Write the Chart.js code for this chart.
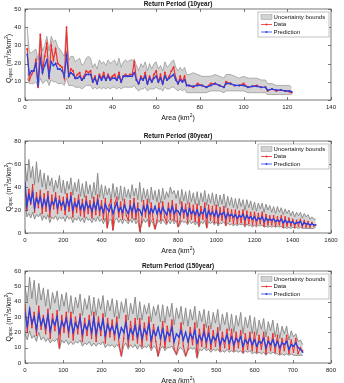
<!DOCTYPE html>
<html><head><meta charset="utf-8">
<script src="https://cdn.jsdelivr.net/npm/chart.js@4.4.0/dist/chart.umd.min.js"></script>
<style>
html,body{margin:0;padding:0;background:#fff;width:344px;height:383px;overflow:hidden}
canvas{position:absolute;left:0}
</style></head><body>
<canvas id="c1" width="344" height="130" style="top:0px"></canvas>
<canvas id="c2" width="344" height="130" style="top:125px"></canvas>
<canvas id="c3" width="344" height="133" style="top:250px"></canvas>
<script>
// ---------- Panel 1: Return Period (10year) ----------
const area1=[1,2,3,4,5,6,7,8,9,10,11,12,13,14,15,16,17,18,19,20,21,22,23,24,25,26,27,28,29,30,31,32,33,34,35,36,37,38,39,40,41,42,43,44,45,46,47,48,49,50,51,52,53,54,55,56,57,58,59,60,61,62,63,64,65,66,67,68,69,70,71,72,73,74,75,77,79,81,83,85,87,89,91,92,94,96,98,100,102,104,106,108,110,111,113,115,117,119,121,122];
const data1=[28,11,14,16,22,7,36,16,24,31,12,30,22,28,20,19,18,12,40,13,17,16,12,14,15,11,13,16,15,16,10,13,9,14,12,15,11,14,12,13,14,11,15,10,13,14,13,14,14,21,11,9,13,11,15,9,13,10,14,16,10,14,9,15,11,13,16,18,12,9,13,10,13,8,8,7,9,8,7,9,9,8,7,10,9,8,8,9,7,7.5,8,7,7,5,6,5,5.5,5,4.5,4];
const pred1=[25,14,16,16,20,8,23,15,19,22,13,21,19,20,17,17,16,13,24.5,13,15,14,12,12,13,11,12,14,14,14,10,12,9,13,11,13,11,13,11,12,12,11,13,10,13,13,13,13,13,15,11,9,12,11,13,9,12,10,12,13,10,12,9,13,11,12,13,14,11,9,11,10,11,8,8,7.5,8,8,7,8,9,8,7,9,9,8,8,8,7,7.5,7.5,7,7,5.5,6,5.5,5.5,5,5,4.5];
const upper1=[40,26,26,27,28,22,36,27,30,35,27,35,32,33,29,28,26,24,40,22,24,24,21,22,23,19,20,23,24,23,18,20,17,22,20,21,19,22,20,21,22,19,23,18,21,22,21,22,22,22,19,16,20,18,21,16,20,17,20,21,17,19,16,21,18,19,21,22,18,16,18,16,18,14,14,15,14,13,13,13,14,13,12,14,14,13,12,13,12,12,12,11,11,9,9,8,8,8,8,7];
const lower1=[12,9,9,9,10,7,12,9,10,11,8,11,10,10,9,9,9,8,12,8,8,8,7,7,7,6,7,8,8,8,6,7,6,7,6,7,6,7,6,7,7,6,7,6,7,7,7,7,7,8,6,5,6,6,7,5,6,6,6,7,6,6,5,7,6,6,7,7,6,5,6,5,6,4,4,4,4,4,4,5,5,5,4,5,5,5,5,5,4,4,4,4,4,3,3,3,3,3,3,3];

// ---------- Panel 2: Return Period (80year) ----------
const area2=[0,10,20,30,40,50,60,70,80,90,100,110,120,130,140,150,160,170,180,190,200,210,220,230,240,250,260,270,280,290,300,310,320,330,340,350,360,370,380,390,400,410,420,430,440,450,460,470,480,490,500,510,520,530,540,550,560,570,580,590,600,610,620,630,640,650,660,670,680,690,700,710,720,730,740,750,760,770,780,790,800,810,820,830,840,850,860,870,880,890,900,910,920,930,940,950,960,970,980,990,1000,1010,1020,1030,1040,1050,1060,1070,1080,1090,1100,1110,1120,1130,1140,1150,1160,1170,1180,1190,1200,1210,1220,1230,1240,1250,1260,1270,1280,1290,1300,1310,1320,1330,1340,1350,1360,1370,1380,1390,1400,1410,1420,1430,1440,1450,1460,1470,1480,1490,1500,1510,1520];
const pred2=[44,24,33,27,35,22,30,26,31,23, 29,24,31,21,27,25,30,22,28,24, 27,21,29,24,31,20,26,23,28,21, 25,20,27,22,24,19,26,21,28,20, 23,18,25,21,19,24,17,22,26,19, 22,18,24,20,17,23,19,25,18,21, 20,16,23,19,24,17,21,18,23,17, 21,17,22,19,16,21,18,23,17,20, 19,16,22,18,20,15,21,17,19,16, 20,15,18,17,21,14,19,16,18,15, 19,14,17,16,18,13,17,15,16,14, 16,13,15,14,16,12,15,13,14,12, 14,11,13,12,14,10,13,11,12,11, 12,10,11,10,12,9,11,9,10,9, 10,8,9,9,10,7,9,8,8,7, 8,7,7];
const data2=[40,20,38,25,42,18,35,22,37,17, 34,19,36,14,33,21,35,17,32,20, 31,16,34,19,35,14,30,18,33,15, 29,14,32,17,28,13,31,16,33,15, 28,12,30,5,24,29,3,26,31,14, 27,12,29,15,11,28,13,30,12,26, 2,10,28,14,29,6,26,12,4,11, 26,11,27,14,9,26,12,28,11,25, 6,10,27,13,25,9,26,12,24,10, 25,7,23,12,26,5,24,11,23,9, 24,8,22,11,23,7,21,10,20,8, 20,8,19,9,20,7,19,8,18,7, 18,7,17,8,18,6,16,7,15,7, 15,6,14,7,15,5,14,6,13,6, 12,5,11,6,12,5,11,5,10,5, 9,6,7];
const upper2=[60,45,64,48,58,42,62,44,55,40, 52,38,50,41,48,36,46,39,50,35, 46,34,45,38,48,33,44,36,47,32, 43,31,45,34,42,30,44,33,52,31, 42,30,41,33,39,29,43,31,40,29, 41,28,40,31,38,30,42,32,39,29, 44,27,39,30,38,26,40,29,37,27, 38,26,39,29,36,31,40,34,37,30, 37,25,38,28,36,25,37,27,35,25, 36,24,35,27,37,24,34,26,35,24, 34,23,33,25,34,22,32,24,31,22, 30,21,30,23,29,20,29,22,28,20, 27,19,26,21,26,18,25,20,24,18, 23,17,23,18,22,16,21,17,20,15, 19,14,18,15,18,13,17,14,16,12, 14,12,12];
const lower2=[28,14,17,13,18,12,16,14,17,11, 15,12,16,9,14,12,15,11,14,12, 14,10,15,12,14,9,13,11,14,10, 13,9,14,11,12,9,13,10,14,10, 12,8,13,4,11,12,2,11,13,9, 12,8,12,10,8,12,9,13,8,11, 1,7,12,9,12,5,11,8,3,8, 11,8,12,9,7,11,8,12,8,11, 5,7,11,9,10,7,11,8,10,7, 10,5,10,8,11,4,10,8,10,7, 10,6,9,8,10,6,9,7,8,6, 8,6,8,7,8,5,8,6,7,5, 7,5,7,6,7,5,6,5,6,5, 6,5,6,5,6,4,5,4,5,4, 5,4,5,4,5,4,4,4,4,4, 4,4,5];

// ---------- Panel 3: Return Period (150year) ----------
const area3=[0,6,12,18,24,30,36,42,48,54,60,66,72,78,84,90,96,102,108,114,120,126,132,138,144,150,156,162,168,174,180,186,192,198,204,210,216,222,228,234,240,246,252,258,264,270,276,282,288,294,300,306,312,318,324,330,336,342,348,354,360,366,372,378,384,390,396,402,408,414,420,426,432,438,444,450,456,462,468,474,480,486,492,498,504,510,516,522,528,534,540,546,552,558,564,570,576,582,588,594,600,606,612,618,624,630,636,642,648,654,660,666,672,678,684,690,696,702,708,714,720,726];
const pred3=[33,24,35,26,30,22,32,25,29,23, 31,21,28,25,30,20,27,24,29,21, 28,20,26,23,29,19,25,22,27,20, 29,19,26,22,28,18,25,21,24,19, 25,17,23,20,26,16,22,19,24,17, 24,16,22,19,25,15,21,18,23,16, 22,15,20,18,23,14,19,17,21,15, 20,14,19,16,21,13,18,15,20,14, 19,13,17,15,19,12,16,14,18,13, 17,12,16,14,17,11,15,13,16,12, 15,11,14,13,16,10,14,12,15,11, 14,10,13,12,14,9,12,11,13,10, 9,7];
const data3=[38,20,36,23,33,18,37,22,31,19, 35,16,32,21,34,10,31,20,33,17, 33,15,30,19,32,14,29,18,31,16, 33,14,30,18,32,13,29,17,28,15, 30,12,5,16,31,11,27,15,29,13, 29,11,26,15,30,10,25,14,5,12, 27,10,24,14,28,9,6,13,26,11, 5,9,23,12,26,4,22,11,25,10, 24,9,21,11,23,8,20,10,22,9, 22,8,20,10,21,7,19,9,20,8, 20,7,18,9,20,6,17,8,19,7, 18,6,16,8,18,6,15,7,16,6, 10,8];
const upper3=[50,40,56,42,54,38,52,41,49,37, 48,35,46,39,47,34,45,37,46,33, 44,32,43,36,45,31,42,35,44,31, 43,31,42,35,44,30,41,34,42,30, 41,29,40,33,42,28,39,32,43,28, 40,28,38,32,39,27,37,31,38,27, 38,26,37,30,39,25,36,29,37,25, 36,24,35,28,37,23,34,27,35,23, 34,22,33,26,35,21,32,25,33,21, 32,20,31,24,33,19,30,23,31,19, 30,18,28,22,29,17,27,21,28,17, 26,16,24,19,24,15,21,17,19,14, 15,12];
const lower3=[19,15,21,16,18,14,20,15,17,14, 16,13,15,14,16,9,15,13,15,12, 14,12,14,13,15,11,13,12,14,11, 13,11,13,12,14,10,12,11,12,10, 12,10,4,11,13,9,12,10,12,9, 12,9,11,10,12,8,11,10,4,9, 11,8,10,10,11,8,5,9,10,8, 4,8,10,9,10,3,9,8,10,8, 9,7,9,8,9,7,8,7,9,7, 8,7,8,7,8,6,8,7,8,6, 7,6,7,6,7,5,7,6,7,6, 6,5,6,5,6,5,6,5,5,5, 5,5];

const titles=['Return Period (10year)','Return Period (80year)','Return Period (150year)'];
const legendLabels=['Uncertainty bounds','Data','Prediction'];

const F='"Liberation Sans", Arial, Helvetica, sans-serif';
const BAND='#d3d3d3', GRAYLINE='#858585', RED='#f22a2a', BLUE='#2a3fe0';

function pts(xs,ys){return xs.map((v,i)=>({x:v,y:ys[i]}));}

function drawPieces(ctx,pieces,x,y){
  let total=0;
  pieces.forEach(p=>{ctx.font=p.f;total+=ctx.measureText(p.t).width;});
  let cx=x-total/2;
  pieces.forEach(p=>{ctx.font=p.f;ctx.fillText(p.t,cx,y+(p.dy||0));cx+=ctx.measureText(p.t).width;});
}

function decor(o){
  return {id:'decor'+o.id, afterDraw(chart){
    const ctx=chart.ctx, a=chart.chartArea, xs=chart.scales.x, ys=chart.scales.y;
    ctx.save();
    ctx.strokeStyle='#444';ctx.lineWidth=0.7;
    ctx.beginPath();
    xs.ticks.forEach(t=>{const px=Math.round(xs.getPixelForValue(t.value))+0.5;
      ctx.moveTo(px,a.bottom);ctx.lineTo(px,a.bottom-3);ctx.moveTo(px,a.top);ctx.lineTo(px,a.top+3);});
    ys.ticks.forEach(t=>{const py=Math.round(ys.getPixelForValue(t.value))+0.5;
      ctx.moveTo(a.left,py);ctx.lineTo(a.left+3,py);ctx.moveTo(a.right,py);ctx.lineTo(a.right-3,py);});
    ctx.stroke();
    ctx.strokeStyle='#555';ctx.lineWidth=0.8;
    ctx.strokeRect(a.left,a.top,a.right-a.left,a.bottom-a.top);
    ctx.fillStyle='#111';ctx.textAlign='center';ctx.textBaseline='middle';
    ctx.font='bold 6.4px '+F;
    ctx.fillText(o.title,(a.left+a.right)/2,a.top-5);
    ctx.textAlign='left';ctx.textBaseline='middle';ctx.fillStyle='#111';
    drawPieces(ctx,[{t:'Area (km',f:'7px '+F},{t:'2',f:'5px '+F,dy:-2.5},{t:')',f:'7px '+F}],(a.left+a.right)/2,a.bottom+18);
    ctx.save();
    ctx.translate(9,(a.top+a.bottom)/2+o.ylOff);ctx.rotate(-Math.PI/2);
    drawPieces(ctx,[{t:'Q',f:'7px '+F},{t:'spec',f:'4.5px '+F,dy:2},{t:' (m',f:'7px '+F},{t:'3',f:'4.5px '+F,dy:-2.5},{t:'/s/km',f:'7px '+F},{t:'2',f:'4.5px '+F,dy:-2.5},{t:')',f:'7px '+F}],0,0);
    ctx.restore();
    const bw=71,bh=25,bx=a.right-73,by=a.top+3;
    ctx.fillStyle='#fff';ctx.fillRect(bx,by,bw,bh);
    ctx.strokeStyle='#999';ctx.lineWidth=0.6;ctx.strokeRect(bx,by,bw,bh);
    ctx.font='6px '+F;ctx.textAlign='left';ctx.textBaseline='middle';
    const rows=[by+5,by+12.5,by+20];
    ctx.fillStyle=BAND;ctx.fillRect(bx+3,rows[0]-2.5,11,5);
    ctx.strokeStyle=GRAYLINE;ctx.lineWidth=0.4;ctx.strokeRect(bx+3,rows[0]-2.5,11,5);
    [[RED,rows[1]],[BLUE,rows[2]]].forEach(([c,y])=>{
      ctx.strokeStyle=c;ctx.lineWidth=0.8;ctx.beginPath();ctx.moveTo(bx+3,y);ctx.lineTo(bx+14,y);ctx.stroke();
      ctx.fillStyle=c;ctx.beginPath();ctx.arc(bx+8.5,y,1,0,Math.PI*2);ctx.fill();
    });
    ctx.fillStyle='#111';
    legendLabels.forEach((l,i)=>ctx.fillText(l,bx+15.5,rows[i]));
    ctx.restore();
  }};
}

function makeChart(id,o){
  return new Chart(document.getElementById(id),{
    type:'line',
    data:{datasets:[
      {label:'Prediction',data:pts(o.x,o.pred),borderColor:BLUE,backgroundColor:BLUE,borderWidth:o.lwb,pointRadius:o.pr,pointBorderWidth:0,pointBackgroundColor:BLUE,fill:false},
      {label:'Data',data:pts(o.x,o.data),borderColor:RED,backgroundColor:RED,borderWidth:o.lw,pointRadius:o.pr,pointBorderWidth:0,pointBackgroundColor:RED,fill:false},
      {label:'lower',data:pts(o.x,o.lower),borderColor:GRAYLINE,borderWidth:o.bw,pointRadius:0,fill:false},
      {label:'Uncertainty bounds',data:pts(o.x,o.upper),borderColor:GRAYLINE,backgroundColor:BAND,borderWidth:o.bw,pointRadius:0,fill:'-1'}
    ]},
    options:{
      responsive:false,animation:false,devicePixelRatio:1,
      layout:{padding:{top:o.padTop,right:13,left:0,bottom:0}},
      plugins:{legend:{display:false},tooltip:{enabled:false},title:{display:false},filler:{drawTime:'beforeDatasetsDraw'}},
      scales:{
        x:{type:'linear',min:0,max:o.xmax,
           ticks:{stepSize:o.xstep,font:{size:6,family:F},color:'#222',padding:4,maxRotation:0,autoSkip:false,callback:v=>String(v)},
           grid:{display:false,drawTicks:false},border:{display:false},
           afterFit:s=>{s.height=o.xh;}},
        y:{type:'linear',min:0,max:o.ymax,
           ticks:{stepSize:o.ystep,font:{size:6,family:F},color:'#222',padding:4,callback:v=>String(v)},
           grid:{display:false,drawTicks:false},border:{display:false},
           afterFit:s=>{s.width=25;}}
      }
    },
    plugins:[decor(o)]
  });
}

makeChart('c1',{id:1,title:titles[0],x:area1,data:data1,pred:pred1,upper:upper1,lower:lower1,
  xmax:140,xstep:20,ymax:50,ystep:10,padTop:9,xh:30,lw:1.1,lwb:1.2,pr:1,bw:0.6,ylOff:4});
makeChart('c2',{id:2,title:titles[1],x:area2,data:data2,pred:pred2,upper:upper2,lower:lower2,
  xmax:1600,xstep:200,ymax:80,ystep:20,padTop:16,xh:22,lw:1,lwb:1.3,pr:0.8,bw:0.9,ylOff:0});
makeChart('c3',{id:3,title:titles[2],x:area3,data:data3,pred:pred3,upper:upper3,lower:lower3,
  xmax:800,xstep:100,ymax:60,ystep:10,padTop:21,xh:20,lw:1,lwb:1.3,pr:0.8,bw:0.9,ylOff:0});
</script>
</body></html>
